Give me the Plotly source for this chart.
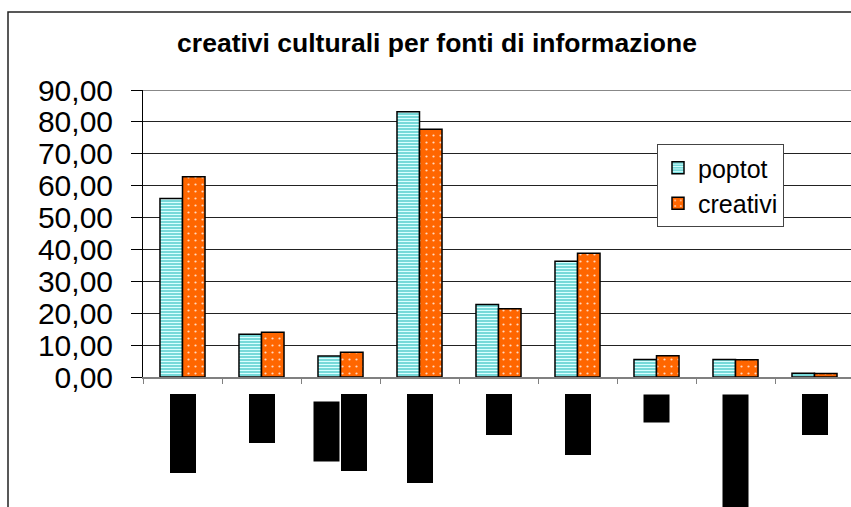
import plotly.graph_objects as go

# ---- data ----
categories = ["quotidiani", "settimanali", "riviste e periodici", "televisione", "radio",
              "internet", "libri", "passaparola amici", "altro"]
poptot = [56.0, 13.4, 6.6, 83.2, 22.7, 36.3, 5.5, 5.5, 1.2]
creativi = [62.8, 14.0, 7.8, 77.7, 21.4, 38.8, 6.7, 5.4, 1.1]
series_names = ["poptot", "creativi"]
title_text = "creativi culturali per fonti di informazione"

# ---- styling ----
FONT = "Liberation Sans, Arial, sans-serif"
W, H = 851, 507
L, R, T, B = 143, 0, 90, 130
plot_w = W - L - R
plot_h = H - T - B

fig = go.Figure()
fig.add_trace(go.Bar(
    x=categories, y=poptot, name=series_names[0],
    marker=dict(color="#6fd8d8",
                line=dict(color="black", width=1.5),
                pattern=dict(shape="-", bgcolor="#62d2d2", fgcolor="#d9ffff",
                             size=3, solidity=0.45, fillmode="replace")),
))
fig.add_trace(go.Bar(
    x=categories, y=creativi, name=series_names[1],
    marker=dict(color="#ff6600",
                line=dict(color="black", width=1.5),
                pattern=dict(shape=".", bgcolor="#ff6600", fgcolor="#ffd9c0",
                             size=7, solidity=0.08, fillmode="replace")),
))

def px_to_paper_x(px):
    return (px - L) / plot_w

def px_to_paper_y(py):
    return (H - B - py) / plot_h

# outer chart frame
shapes = [
    dict(type="rect", xref="paper", yref="paper",
         x0=px_to_paper_x(8), y0=px_to_paper_y(12), x1=1.2, y1=-0.8,
         line=dict(color="#222", width=1.5), fillcolor="rgba(0,0,0,0)", layer="below"),
    dict(type="line", xref="paper", yref="y", x0=0, x1=1.1, y0=90, y1=90,
         line=dict(color="#888", width=2), layer="above"),
]

# redacted (blacked-out) category labels, rotated
block_lens = [78, 48, None, 88, 40, 60, 27, 125, 40]
annotations = []
for i, cat in enumerate(categories):
    if block_lens[i] is None:
        parts = cat.split(" e ")
        for txt, shift, ln, ys in [(parts[0] + " e", -14, 59, -24), (parts[1], 13, 76, -17)]:
            annotations.append(dict(x=cat, y=0, xref="x", yref="y", text=txt,
                                    textangle=-90, showarrow=False, xanchor="center",
                                    yanchor="top", yshift=ys, xshift=shift,
                                    width=ln, height=25, bgcolor="black", borderpad=0,
                                    font=dict(color="black", size=16, family=FONT)))
        continue
    annotations.append(dict(x=cat, y=0, xref="x", yref="y", text=cat,
                            textangle=-90, showarrow=False, xanchor="center",
                            yanchor="top", yshift=-17,
                            width=block_lens[i], height=25, bgcolor="black", borderpad=0,
                            font=dict(color="black", size=16, family=FONT)))

fig.update_layout(
    width=W, height=H,
    margin=dict(l=L, r=R, t=T, b=B, pad=0),
    paper_bgcolor="white", plot_bgcolor="white",
    separators=",.",
    barmode="group", bargap=0.43, bargroupgap=0,
    title=dict(text="<b>" + title_text + "</b>", x=437 / W, xanchor="center",
               y=1 - 43 / H, yanchor="middle",
               font=dict(family=FONT, size=26.5, color="black")),
    font=dict(family=FONT, color="black"),
    showlegend=True,
    legend=dict(x=px_to_paper_x(657), y=px_to_paper_y(144), xanchor="left", yanchor="top",
                bgcolor="white", bordercolor="#444", borderwidth=1,
                font=dict(size=25, family=FONT, color="black"),
                tracegroupgap=0, itemwidth=30),
    shapes=shapes,
    annotations=annotations,
)
fig.update_xaxes(
    type="category", range=[-0.5, 8.5 - 3 / 79],
    showline=True, linecolor="#808080", linewidth=2,
    ticks="outside", ticklen=5, tickcolor="#808080", tickson="boundaries",
    showticklabels=False, showgrid=False, zeroline=False,
)
fig.update_yaxes(
    range=[0, 90], dtick=10, tickformat=".2f",
    showline=True, linecolor="black", linewidth=1,
    ticks="outside", ticklen=11, tickcolor="black",
    showgrid=True, gridcolor="#222", gridwidth=1, zeroline=False,
    tickfont=dict(size=30, family=FONT, color="black"),
    ticklabelstandoff=12,
)

fig.write_html("out.html", config={"displayModeBar": False},
               post_script="document.body.style.margin='0px';")
